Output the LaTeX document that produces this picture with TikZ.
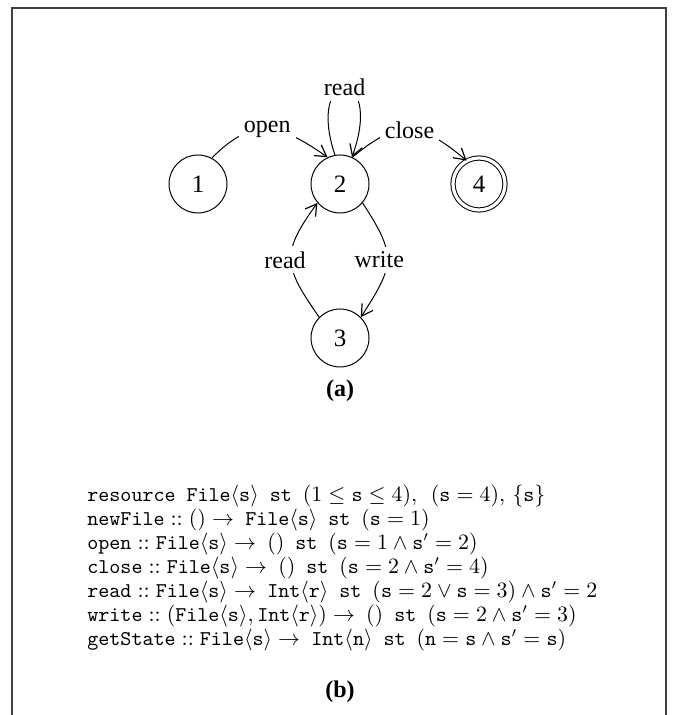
\documentclass[tikz,border=0pt]{standalone}
\usepackage[no-math]{fontspec}
\setmainfont{Liberation Serif}
\usetikzlibrary{arrows.meta}
\newcommand{\tw}[1]{\texttt{#1}}
\newcommand{\fs}{\tw{File}\langle\tw{s}\rangle}
\newcommand{\sprm}{\tw{s}'}
\newcommand{\stt}{\hspace{5.5pt}\tw{st}\hspace{5.5pt}}
\begin{document}
\begin{tikzpicture}[x=0.5pt,y=0.5pt,
  state/.style={circle,draw,line width=0.5pt,minimum size=29pt,inner sep=0pt,font=\fontsize{12.5}{14}\selectfont},
  accstate/.style={circle,draw,line width=0.5pt,double,double distance=1.6pt,minimum size=26pt,inner sep=0pt,font=\fontsize{12.5}{14}\selectfont},
  edge/.style={line width=0.5pt,-{Straight Barb[length=5.5pt,width=6.5pt,line width=0.6pt]}},
  lbl/.style={fill=white,inner sep=2.5pt,font=\fontsize{12}{14}\selectfont},
  frame/.style={draw=black!75,line width=0.6pt}]
\useasboundingbox (0,0) rectangle (674,715);
\draw[frame] (12,0) -- (12,707) -- (666,707) -- (666,0);

\node[state] (n1) at (198,531) {1};
\node[state] (n2) at (340,531) {2};
\node[accstate] (n4) at (479,531) {4};
\node[state] (n3) at (340,377) {3};

\draw[edge] (n1.62) to[out=45,in=145,looseness=1.3] node[lbl,pos=.5] {open} (n2.115);
\draw[edge] (n2.65) to[out=40,in=140,looseness=1.35] node[lbl,pos=.5] {close} (n4.118);
\draw[edge] (n2.100) .. controls (305,650) and (385,650) .. node[lbl,pos=.5] {read} (n2.66);
\draw[edge] (n2.-40) to[out=-57,in=57,looseness=1.4] node[lbl,pos=.5,xshift=-4pt] {write} (n3.45);
\draw[edge] (n3.135) to[out=125,in=234,looseness=1.4] node[lbl,pos=.5,xshift=-3pt] {read} (n2.220);

\node[font=\fontsize{12}{14}\selectfont\bfseries] (capa) at (340,324) {(a)};

\node[anchor=west,align=left,inner sep=0pt,font=\fontsize{10.5}{12}\selectfont] (code) at (87,147) {%
$\tw{resource File}\langle\tw{s}\rangle\stt(1 \le \tw{s} \le 4),\hspace{5pt}(\tw{s} = 4),\,\{\tw{s}\}$\\
$\tw{newFile} \mathrel{::} () \rightarrow\ \fs\stt(\tw{s} = 1)$\\
$\tw{open} \mathrel{::} \fs \rightarrow\ ()\stt(\tw{s} = 1 \wedge \sprm = 2)$\\
$\tw{close} \mathrel{::} \fs \rightarrow\ ()\stt(\tw{s} = 2 \wedge \sprm = 4)$\\
$\tw{read} \mathrel{::} \fs \rightarrow\ \tw{Int}\langle\tw{r}\rangle\stt(\tw{s} = 2 \vee \tw{s} = 3) \wedge \sprm = 2$\\
$\tw{write} \mathrel{::} (\fs, \tw{Int}\langle\tw{r}\rangle) \rightarrow\ ()\stt(\tw{s} = 2 \wedge \sprm = 3)$\\
$\tw{getState} \mathrel{::} \fs \rightarrow\ \tw{Int}\langle\tw{n}\rangle\stt(\tw{n} = \tw{s} \wedge \sprm = \tw{s})$};

\node[font=\fontsize{12}{14}\selectfont\bfseries] (capb) at (340,23) {(b)};
\end{tikzpicture}
\end{document}
